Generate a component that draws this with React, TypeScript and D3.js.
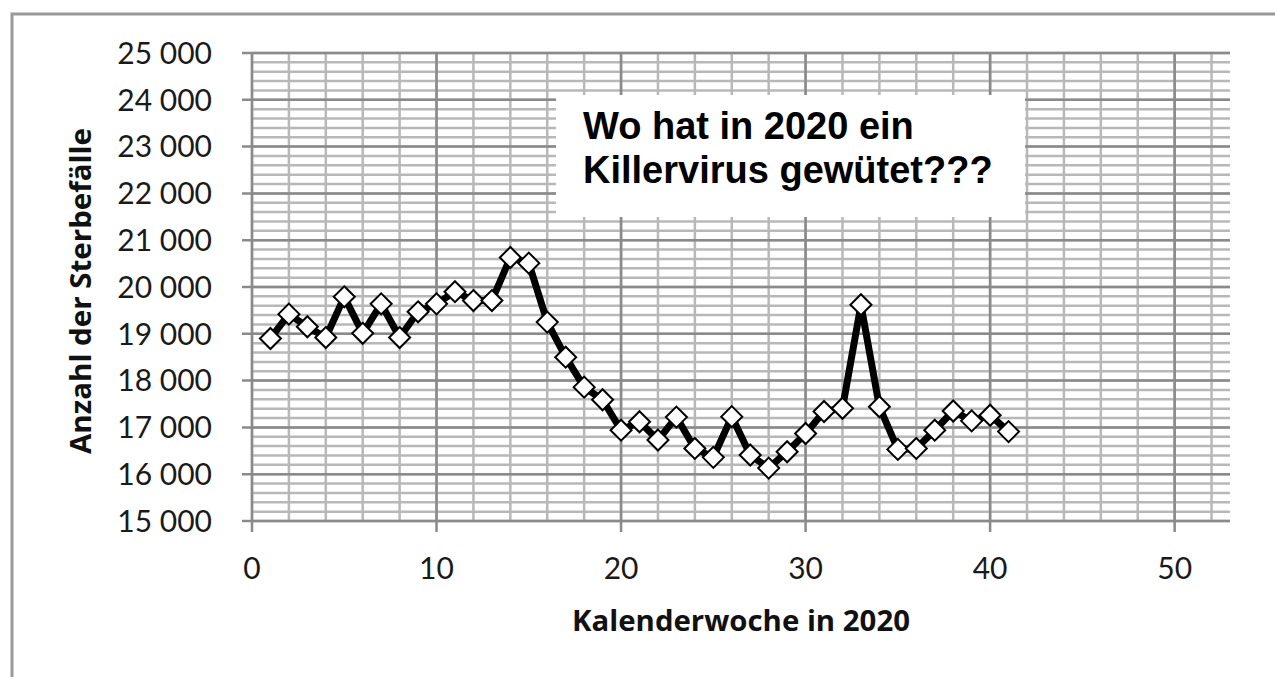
import * as d3 from "d3";

// Kalenderwoche / Sterbefälle
const weeks = [
  1, 2, 3, 4, 5, 6, 7, 8, 9, 10, 11, 12, 13, 14, 15, 16, 17, 18, 19, 20, 21,
  22, 23, 24, 25, 26, 27, 28, 29, 30, 31, 32, 33, 34, 35, 36, 37, 38, 39, 40, 41,
];
const deaths = [
  18900, 19420, 19150, 18920, 19790, 19010, 19640, 18920, 19470, 19640, 19900,
  19710, 19710, 20630, 20510, 19250, 18500, 17860, 17590, 16940, 17120, 16730,
  17220, 16550, 16360, 17230, 16410, 16130, 16480, 16870, 17340, 17410, 19620,
  17440, 16530, 16550, 16940, 17350, 17140, 17260, 16910,
];
const yTicks = [15000, 16000, 17000, 18000, 19000, 20000, 21000, 22000, 23000, 24000, 25000];
const xTicks = [0, 10, 20, 30, 40, 50];
const titleLines = ["Wo hat in 2020 ein", "Killervirus gewütet???"];
const xTitle = "Kalenderwoche in 2020";
const yTitle = "Anzahl der Sterbefälle";

const W = 1275;
const H = 677;
const plot = { left: 252, right: 1230, top: 53, bottom: 521 };

const fmt = d3.formatLocale({ decimal: ",", thousands: " ", grouping: [3], currency: ["", "€"] }).format(",");

const x = d3.scaleLinear().domain([0, 53]).range([plot.left, plot.right]);
const y = d3.scaleLinear().domain([15000, 25000]).range([plot.bottom, plot.top]);

const minorX = d3.range(0, 53, 2);
const minorY = d3.range(15000, 25001, 200);

const line = d3
  .line<number>()
  .x((_, i) => x(weeks[i]))
  .y((d) => y(d));

const diamond = (cx: number, cy: number, r: number) =>
  `M${cx},${cy - r}L${cx + r},${cy}L${cx},${cy + r}L${cx - r},${cy}Z`;

export default function App() {
  return (
    <svg
      width={W}
      height={H}
      style={{ position: "absolute", left: 0, top: 0, background: "#fff" }}
    >
      {/* frame */}
      <rect x={12} y={14} width={1300} height={700} fill="#fff" stroke="#9a9a9a" strokeWidth={3} />

      {/* minor grid */}
      <g stroke="#b8b8b8" strokeWidth={2.5}>
        {minorY.map((v) => (
          <line key={"hy" + v} x1={plot.left} x2={plot.right} y1={y(v)} y2={y(v)} />
        ))}
        {minorX.map((v) => (
          <line key={"vx" + v} x1={x(v)} x2={x(v)} y1={plot.top} y2={plot.bottom} />
        ))}
      </g>

      {/* major grid */}
      <g stroke="#8a8a8a" strokeWidth={2.5}>
        {yTicks.map((v) => (
          <line key={"my" + v} x1={plot.left - 10} x2={plot.right} y1={y(v)} y2={y(v)} />
        ))}
        {xTicks.map((v) => (
          <line key={"mx" + v} x1={x(v)} x2={x(v)} y1={plot.top} y2={plot.bottom + 11} />
        ))}
      </g>

      {/* y tick labels */}
      <g fontFamily="Lato" fontSize={30} fill="#1a1a1a" textAnchor="end">
        {yTicks.map((v) => (
          <text key={"ty" + v} x={212} y={y(v)} dy="0.36em">
            {fmt(v)}
          </text>
        ))}
      </g>

      {/* x tick labels */}
      <g fontFamily="Lato" fontSize={30} fill="#1a1a1a" textAnchor="middle">
        {xTicks.map((v) => (
          <text key={"tx" + v} x={x(v)} y={579}>
            {v}
          </text>
        ))}
      </g>

      {/* axis titles */}
      <text
        x={(plot.left + plot.right) / 2}
        y={631}
        textAnchor="middle"
        fontFamily="Open Sans"
        fontWeight="bold"
        fontSize={28}
        textLength={338}
        lengthAdjust="spacingAndGlyphs"
        fill="#111"
      >
        {xTitle}
      </text>
      <text
        transform={`translate(91,${291}) rotate(-90)`}
        textAnchor="middle"
        fontFamily="Open Sans"
        fontWeight="bold"
        fontSize={28}
        textLength={326}
        lengthAdjust="spacingAndGlyphs"
        fill="#111"
      >
        {yTitle}
      </text>

      {/* title box */}
      <rect x={556} y={95} width={469} height={122} fill="#fff" />
      <g fontFamily="Liberation Sans, Arial, sans-serif" fontWeight="bold" fontSize={38} fill="#000">
        {titleLines.map((t, i) => (
          <text key={t} x={583} y={139 + i * 44}>
            {t}
          </text>
        ))}
      </g>

      {/* series */}
      <path d={line(deaths) ?? ""} fill="none" stroke="#000" strokeWidth={7} strokeLinejoin="round" />
      <g fill="#fff" stroke="#000" strokeWidth={2}>
        {deaths.map((d, i) => (
          <path key={"p" + i} d={diamond(x(weeks[i]), y(d), 10.5)} />
        ))}
      </g>
    </svg>
  );
}
